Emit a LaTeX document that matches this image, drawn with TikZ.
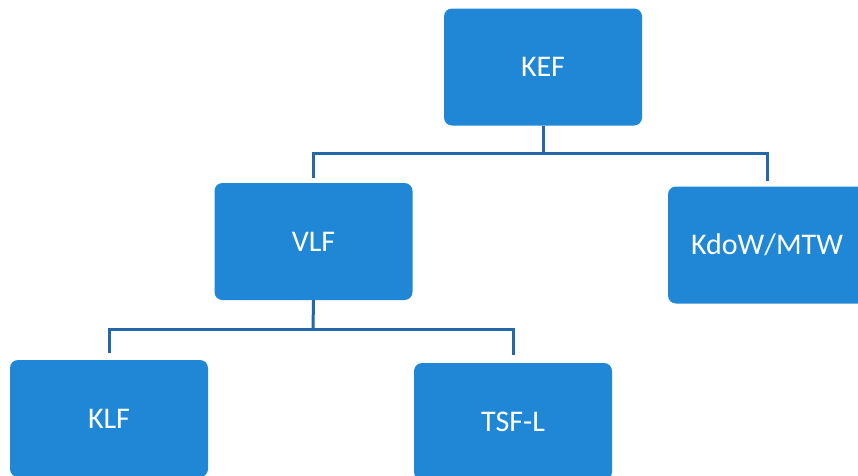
\documentclass[tikz,border=0pt]{standalone}
\usepackage{fontspec}
\setmainfont{Carlito}
\usepackage{tikz}

\definecolor{boxblue}{RGB}{31,135,213}
\definecolor{lineblue}{RGB}{36,104,172}

\tikzset{
  orgbox/.style={fill=boxblue, text=white, rounded corners=8pt, inner sep=0pt,
    minimum width=198pt, minimum height=117pt, font=\fontsize{30}{36}\selectfont},
  conn/.style={draw=lineblue, line width=3pt}
}

\begin{document}
\begin{tikzpicture}[x=1pt,y=-1pt]
        \clip (0,0) rectangle (858,475);
        % top level
        \node[orgbox] (kef) at (543,67) {KEF};
        % second level
        \node[orgbox] (vlf) at (313.5,241.5) {VLF};
        \node[orgbox] (kdow) at (767,245) {KdoW/MTW};
        % third level
        \node[orgbox] (klf) at (109,418.5) {KLF};
        \node[orgbox] (tsfl) at (513,421.5) {TSF-L};
        % buses
        \coordinate (busa) at (543,153);
        \coordinate (busb) at (313,329);
        \draw[conn] (kef.south) -- (busa);
        \draw[conn] ([yshift=5pt]vlf.north) |- (busa) -| ([yshift=5pt]kdow.north);
        \draw[conn] (vlf.south) -- (busb);
        \draw[conn] ([yshift=7pt]klf.north) |- (busb) -| ([yshift=8pt]tsfl.north);
      \end{tikzpicture}
\end{document}
